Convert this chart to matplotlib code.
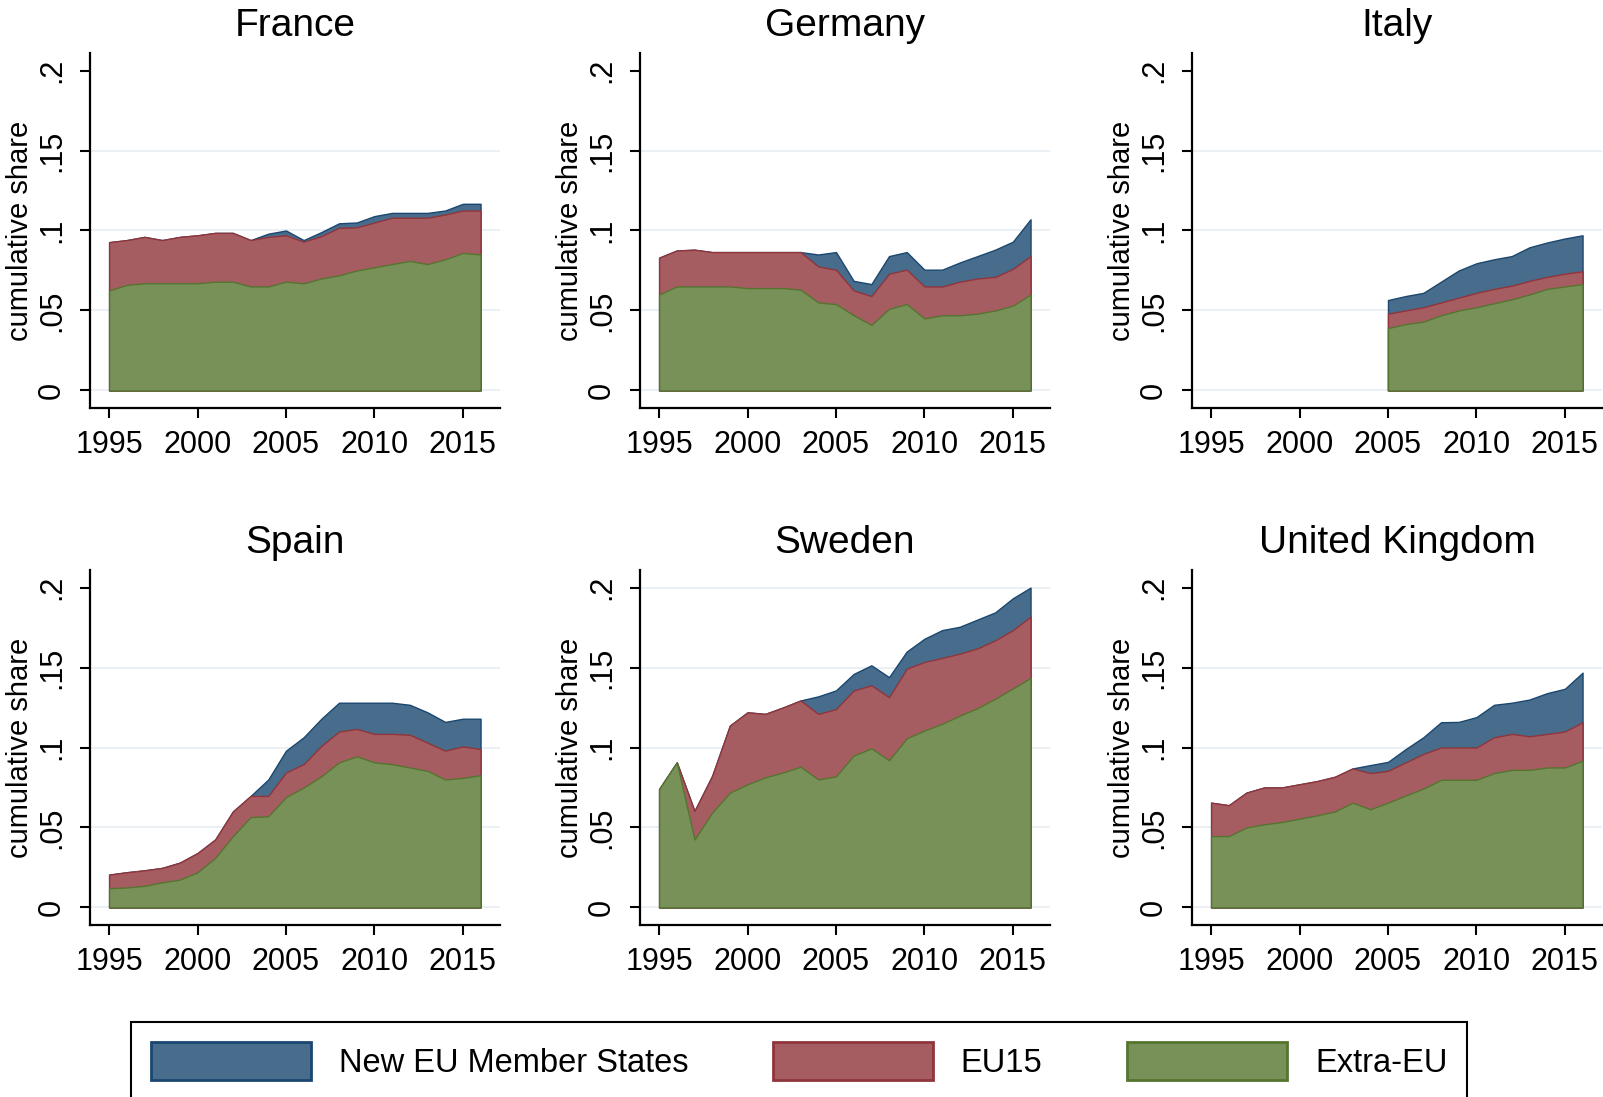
import matplotlib.pyplot as plt
from matplotlib.patches import Patch

plt.rcParams['font.family'] = ['Liberation Sans', 'DejaVu Sans']

years = [1995, 1996, 1997, 1998, 1999, 2000, 2001, 2002, 2003, 2004, 2005,
         2006, 2007, 2008, 2009, 2010, 2011, 2012, 2013, 2014, 2015, 2016]
italy_years = [2005, 2006, 2007, 2008, 2009, 2010, 2011, 2012, 2013, 2014, 2015, 2016]

# cumulative shares: extra-EU, + EU15, + new member states
france_extra = [.0625, .066, .067, .067, .067, .067, .068, .068, .065, .065, .068,
                .067, .070, .072, .075, .077, .079, .081, .079, .082, .086, .085]
france_eu15 = [.0927, .094, .096, .094, .096, .097, .0985, .0985, .094, .096, .097,
               .093, .0965, .1017, .102, .105, .108, .108, .108, .110, .1125, .1125]
france_total = [.0927, .094, .096, .094, .096, .097, .0985, .0985, .094, .098, .100,
                .094, .099, .1045, .105, .109, .111, .111, .111, .1125, .1167, .1167]

germany_extra = [.060, .065, .065, .065, .065, .064, .064, .064, .063, .055, .054,
                 .047, .041, .051, .054, .045, .047, .047, .048, .050, .053, .060]
germany_eu15 = [.083, .0875, .088, .0865, .0865, .0865, .0865, .0865, .0865, .0775, .0755,
                .0625, .059, .073, .0755, .065, .065, .068, .070, .071, .076, .084]
germany_total = [.083, .0875, .088, .0865, .0865, .0865, .0865, .0865, .0865, .085, .0865,
                 .0685, .0665, .084, .0865, .0755, .0755, .080, .084, .088, .093, .107]

italy_extra = [.039, .0415, .043, .047, .050, .052, .0545, .057, .060, .0635, .065, .0665]
italy_eu15 = [.048, .050, .052, .055, .058, .061, .0635, .0655, .0685, .071, .073, .0745]
italy_total = [.0565, .059, .061, .068, .075, .0795, .082, .084, .0895, .0925, .095, .097]

spain_extra = [.012, .0125, .0135, .0157, .0174, .022, .031, .0446, .0565, .057, .069,
               .075, .082, .0907, .0945, .0907, .0896, .0875, .0854, .080, .081, .0827]
spain_eu15 = [.0205, .022, .0232, .0247, .028, .034, .0425, .060, .0697, .0697, .0844,
              .0896, .101, .110, .1116, .1085, .1085, .108, .103, .098, .1007, .099]
spain_total = [.0205, .022, .0232, .0247, .028, .034, .0425, .060, .0697, .080, .098,
               .1064, .118, .128, .128, .128, .128, .1267, .122, .116, .118, .118]

sweden_extra = [.074, .0907, .0425, .0593, .0718, .077, .0813, .0844, .088, .080, .082,
                .095, .0995, .092, .1058, .1106, .1148, .120, .1246, .1305, .137, .1435]
sweden_eu15 = [.074, .0907, .0603, .0823, .1137, .122, .121, .125, .1294, .121, .124,
               .1357, .1389, .1315, .1493, .1535, .156, .1587, .162, .167, .1734, .1818]
sweden_total = [.074, .0907, .0603, .0823, .1137, .122, .121, .125, .1294, .132, .1357,
                .146, .1514, .144, .160, .168, .1734, .1755, .180, .1845, .1933, .200]

uk_extra = [.0446, .0446, .050, .052, .0534, .0555, .0576, .060, .0655, .0614, .0655,
            .070, .0743, .0798, .0798, .0798, .084, .086, .086, .0875, .0875, .0917]
uk_eu15 = [.0655, .0639, .0718, .075, .075, .077, .079, .0817, .0869, .084, .0854,
           .0907, .096, .100, .100, .100, .1064, .1085, .107, .1085, .110, .1158]
uk_total = [.0655, .0639, .0718, .075, .075, .077, .079, .0817, .0869, .089, .091,
            .099, .1064, .1158, .116, .119, .1267, .128, .130, .134, .1367, .1468]

countries = ['France', 'Germany', 'Italy', 'Spain', 'Sweden', 'United Kingdom']
series_years = [years, years, italy_years, years, years, years]
series_extra = [france_extra, germany_extra, italy_extra, spain_extra, sweden_extra, uk_extra]
series_eu15 = [france_eu15, germany_eu15, italy_eu15, spain_eu15, sweden_eu15, uk_eu15]
series_total = [france_total, germany_total, italy_total, spain_total, sweden_total, uk_total]

legend_labels = ['New EU Member States', 'EU15', 'Extra-EU']
yticks = [0, .05, .1, .15, .2]
ytick_labels = ['0', '.05', '.1', '.15', '.2']
xticks = [1995, 2000, 2005, 2010, 2015]

navy_fill, navy_line = '#486c8c', '#1a476f'
maroon_fill, maroon_line = '#a65d62', '#90353b'
green_fill, green_line = '#779159', '#55752f'

W, H = 1603, 1097
fig = plt.figure(figsize=(W / 100, H / 100), dpi=100)
fig.patch.set_facecolor('white')

lefts = [90, 640, 1192]
bottoms = [408, 925]
for i, name in enumerate(countries):
    r, c = divmod(i, 3)
    ax = fig.add_axes([lefts[c] / W, 1 - bottoms[r] / H, 410 / W, 355 / H])
    yrs = series_years[i]
    ax.fill_between(yrs, 0, series_total[i], facecolor=navy_fill, edgecolor=navy_line, linewidth=1, zorder=2)
    ax.fill_between(yrs, 0, series_eu15[i], facecolor=maroon_fill, edgecolor=maroon_line, linewidth=1, zorder=3)
    ax.fill_between(yrs, 0, series_extra[i], facecolor=green_fill, edgecolor=green_line, linewidth=1, zorder=4)

    grid = [0, .05, .1, .15]
    if max(series_total[i]) >= .2:
        grid.append(.2)
    for g in grid:
        ax.axhline(g, color='#e8eff3', linewidth=1.3, zorder=1)

    ax.set_xlim(1993.92, 2017.1)
    ax.set_ylim(-0.011, 0.211)
    ax.set_xticks(xticks)
    ax.set_yticks(yticks)
    ax.set_yticklabels(ytick_labels, rotation=90, va='center')
    ax.tick_params(axis='both', direction='out', length=7.5, width=1.5, labelsize=22, color='black')
    ax.tick_params(axis='x', pad=8.5)
    ax.tick_params(axis='y', pad=9)
    for s in ['top', 'right']:
        ax.spines[s].set_visible(False)
    for s in ['left', 'bottom']:
        ax.spines[s].set_linewidth(1.6)
    ax.set_ylabel('cumulative share', fontsize=21, labelpad=2)
    ax.set_title(name, fontsize=28, pad=12)

handles = [Patch(facecolor=navy_fill, edgecolor=navy_line, linewidth=2),
           Patch(facecolor=maroon_fill, edgecolor=maroon_line, linewidth=2),
           Patch(facecolor=green_fill, edgecolor=green_line, linewidth=2)]
leg = fig.legend(handles, legend_labels, loc='upper center', bbox_to_anchor=(0.4985, 1 - 1022 / H),
                 ncol=3, fontsize=23.5, frameon=True, fancybox=False, framealpha=1,
                 edgecolor='black', handlelength=4.9, handleheight=1.45, handletextpad=0.85,
                 columnspacing=2.6, borderpad=0.6, borderaxespad=0)
leg.get_frame().set_linewidth(1.5)

fig.savefig('out.png', dpi=100, facecolor='white')
